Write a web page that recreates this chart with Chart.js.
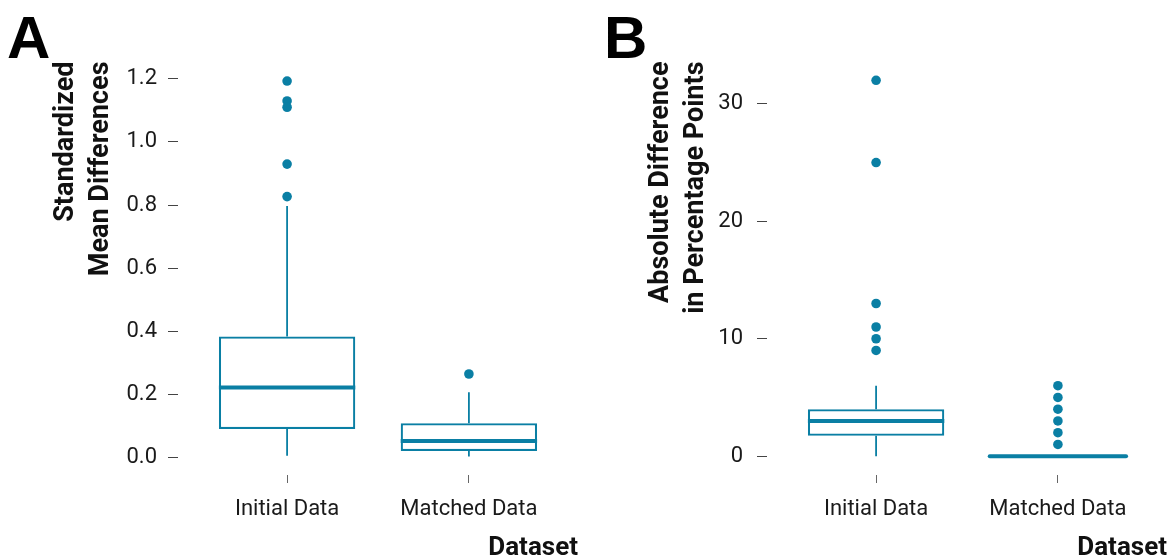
<!DOCTYPE html>
<html>
<head>
<meta charset="utf-8">
<script src="https://cdn.jsdelivr.net/npm/chart.js@4.4.1/dist/chart.umd.min.js"></script>
<style>
  html, body { margin: 0; padding: 0; background: #fff; }
  #wrap { position: relative; width: 1173px; height: 560px; }
  .panel { position: absolute; top: 0; height: 560px; }
</style>
</head>
<body>
<div id="wrap">
  <div class="panel" style="left:0;width:586px"><canvas id="chartA" width="586" height="560"></canvas></div>
  <div class="panel" style="left:586px;width:587px"><canvas id="chartB" width="587" height="560"></canvas></div>
</div>
<script>
const categories = ["Initial Data", "Matched Data"];
const catPos = [1, 2];

// A: standardized mean differences (box stats per dataset)
const smdLow = [0.006, 0.004];
const smdQ1 = [0.091, 0.021];
const smdMedian = [0.222, 0.053];
const smdQ3 = [0.384, 0.109];
const smdHigh = [0.797, 0.207];
const smdOutInitial = [1.193, 1.130, 1.110, 0.930, 0.827];
const smdOutMatched = [0.265];
const smdTicks = [0, 0.2, 0.4, 0.6, 0.8, 1.0, 1.2];

// B: absolute difference in percentage points
const pctLow = [0, 0];
const pctQ1 = [1.75, 0];
const pctMedian = [3, 0];
const pctQ3 = [4, 0];
const pctHigh = [6, 0];
const pctOutInitial = [32, 25, 13, 11, 10, 9];
const pctOutMatched = [6, 5, 4, 3, 2, 1];
const pctTicks = [0, 10, 20, 30];

const teal = "#0a7fa4";
Chart.defaults.font.family = "Roboto";

// whiskers + median line on top of the floating bars
const boxLines = {
  id: "boxLines",
  afterDatasetsDraw(chart, args, opts) {
    const ctx = chart.ctx;
    const x = chart.scales.x, y = chart.scales.y;
    const bars = chart.getDatasetMeta(0).data;
    ctx.save();
    ctx.strokeStyle = teal;
    opts.median.forEach((m, i) => {
      const cx = x.getPixelForValue(catPos[i]);
      const half = bars[i].width / 2;
      ctx.lineWidth = 1.8;
      ctx.lineCap = "butt";
      ctx.beginPath();
      ctx.moveTo(cx, y.getPixelForValue(opts.q3[i]));
      ctx.lineTo(cx, y.getPixelForValue(opts.high[i]));
      ctx.moveTo(cx, y.getPixelForValue(opts.q1[i]));
      ctx.lineTo(cx, y.getPixelForValue(opts.low[i]));
      ctx.stroke();
      ctx.lineWidth = 4;
      ctx.lineCap = opts.q1[i] === opts.q3[i] ? "round" : "butt";
      ctx.beginPath();
      ctx.moveTo(cx - half, y.getPixelForValue(m));
      ctx.lineTo(cx + half, y.getPixelForValue(m));
      ctx.stroke();
    });
    ctx.restore();
  }
};

const panelLetter = {
  id: "panelLetter",
  afterDraw(chart, args, opts) {
    const ctx = chart.ctx;
    ctx.save();
    ctx.font = "bold 60px 'Liberation Sans'";
    ctx.fillStyle = "#000";
    ctx.textBaseline = "alphabetic";
    ctx.fillText(opts.text, opts.x, opts.y);
    ctx.restore();
  }
};

function makePanel(id, p) {
  const outliers = [];
  p.outInitial.forEach(v => outliers.push({ x: catPos[0], y: v }));
  p.outMatched.forEach(v => outliers.push({ x: catPos[1], y: v }));

  new Chart(document.getElementById(id), {
    type: "bar",
    data: {
      datasets: [{
        data: catPos.map((c, i) => ({ x: c, y: [p.q1[i], p.q3[i]] })),
        backgroundColor: "#fff",
        borderColor: teal,
        borderWidth: 2.2,
        borderSkipped: false,
        barPercentage: 0.75,
        categoryPercentage: 1
      }, {
        type: "scatter",
        data: outliers,
        pointRadius: 4.8,
        pointBackgroundColor: teal,
        pointBorderWidth: 0
      }]
    },
    options: {
      responsive: false,
      animation: false,
      layout: { padding: { top: 61.5, right: p.padRight, left: 0, bottom: 0 } },
      plugins: {
        legend: { display: false },
        tooltip: { enabled: false },
        boxLines: { low: p.low, q1: p.q1, median: p.median, q3: p.q3, high: p.high },
        panelLetter: { text: p.letter, x: p.letterX, y: 58 }
      },
      scales: {
        x: {
          type: "linear",
          min: 0.4,
          max: 2.6,
          offset: false,
          afterBuildTicks: s => { s.ticks = catPos.map(v => ({ value: v })); },
          afterFit: s => { s.height = 85; },
          border: { display: false },
          grid: { offset: false, drawOnChartArea: false, drawTicks: true, tickLength: 8, tickColor: "#666", tickWidth: 1 },
          ticks: {
            callback: v => categories[catPos.indexOf(v)],
            font: { size: 22 },
            color: "#1a1a1a",
            padding: 13,
            maxRotation: 0,
            autoSkip: false
          },
          title: {
            display: true,
            text: "Dataset",
            align: "end",
            color: "#111",
            font: { size: 26, weight: "bold", lineHeight: 0.9 },
            padding: { top: 0, bottom: 0 }
          }
        },
        y: {
          min: p.yMin,
          max: p.yMax,
          afterBuildTicks: s => { s.ticks = p.ticks.map(v => ({ value: v })); },
          afterFit: s => { s.width = p.axisWidth; },
          border: { display: false },
          grid: { drawOnChartArea: false, drawTicks: true, tickLength: 10, tickColor: "#444", tickWidth: 1 },
          ticks: {
            callback: p.fmt,
            font: { size: 22 },
            color: "#1a1a1a",
            padding: p.tickPad
          },
          title: {
            display: true,
            text: p.title,
            align: "end",
            color: "#111",
            font: { size: 27, weight: "bold", lineHeight: 1.28 },
            padding: { top: p.titlePad, bottom: 0 }
          }
        }
      }
    },
    plugins: [boxLines, panelLetter]
  });
}

makePanel("chartA", {
  low: smdLow, q1: smdQ1, median: smdMedian, q3: smdQ3, high: smdHigh,
  outInitial: smdOutInitial, outMatched: smdOutMatched,
  ticks: smdTicks, yMin: -0.055, yMax: 1.255, fmt: v => v.toFixed(1),
  title: ["Standardized", "Mean Differences"],
  letter: "A", letterX: 7, padRight: 8, axisWidth: 178, tickPad: 11, titlePad: 49
});

makePanel("chartB", {
  low: pctLow, q1: pctQ1, median: pctMedian, q3: pctQ3, high: pctHigh,
  outInitial: pctOutInitial, outMatched: pctOutMatched,
  ticks: pctTicks, yMin: -1.6, yMax: 33.6, fmt: v => String(v),
  title: ["Absolute Difference", "in Percentage Points"],
  letter: "B", letterX: 18, padRight: 6, axisWidth: 181, tickPad: 14, titlePad: 58
});
</script>
</body>
</html>
